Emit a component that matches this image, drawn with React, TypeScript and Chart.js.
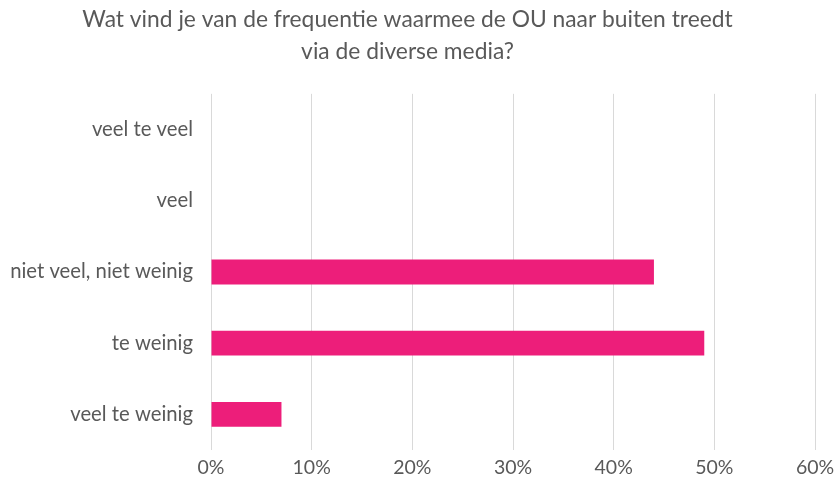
import React, { useEffect, useRef } from "react";
import { Chart, registerables } from "chart.js";

Chart.register(...registerables);

const titleLines = ["Wat vind je van de frequentie waarmee de OU naar buiten treedt", "via de diverse media?"];
const categories = ["veel te veel", "veel", "niet veel, niet weinig", "te weinig", "veel te weinig"];
const values = [0, 0, 44, 49, 7];
const xMax = 60;
const xStep = 10;

export default function App() {
  const ref = useRef<HTMLCanvasElement>(null);
  useEffect(() => {
    document.body.style.margin = "0";
    const ctx = ref.current!;
    const chart = new Chart(ctx, {
      type: "bar",
      data: {
        labels: categories,
        datasets: [
          {
            data: values,
            backgroundColor: "#ED1E7A",
            borderWidth: 0,
            barPercentage: 0.35,
            categoryPercentage: 1,
          },
        ],
      },
      options: {
        indexAxis: "y",
        animation: false,
        responsive: false,
        maintainAspectRatio: false,
        layout: { padding: { left: 0, right: 21, top: 0, bottom: 0 } },
        plugins: {
          legend: { display: false },
          tooltip: { enabled: false },
          title: {
            display: true,
            text: titleLines,
            color: "#595959",
            font: { family: "Lato", size: 22.8, weight: "normal", lineHeight: 1.4 },
            padding: { top: 4, bottom: 26 },
          },
        },
        scales: {
          x: {
            min: 0,
            max: xMax,
            ticks: {
              stepSize: xStep,
              color: "#595959",
              font: { family: "Lato", size: 19.5 },
              padding: 6,
              callback: (v: any) => v + "%",
            },
            grid: { color: "#d9d9d9", lineWidth: 1, drawTicks: false },
            border: { display: false },
            afterFit: (s: any) => {
              s.height = 40;
              s.paddingLeft = 0;
              s.paddingRight = 0;
            },
          },
          y: {
            ticks: {
              color: "#595959",
              font: { family: "Lato", size: 20.3 },
              padding: 18,
            },
            grid: { display: false, drawTicks: false },
            border: { display: false },
            afterFit: (s: any) => {
              s.width = 211;
            },
          },
        },
      },
    });
    return () => chart.destroy();
  }, []);
  return <canvas ref={ref} width={836} height={490} style={{ display: "block" }} />;
}
